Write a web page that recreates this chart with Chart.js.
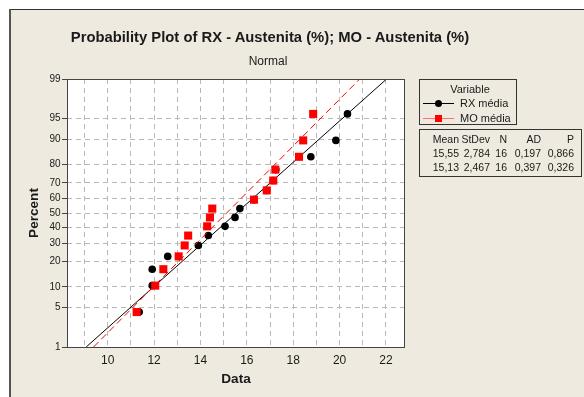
<!DOCTYPE html>
<html><head><meta charset="utf-8">
<script src="https://cdn.jsdelivr.net/npm/chart.js@4"></script>
<style>
html,body{margin:0;padding:0;background:#fff;}
#wrap{position:relative;width:584px;height:397px;overflow:hidden;font-family:'Liberation Sans',Arial,sans-serif;color:#1a1a1a;}
canvas{position:absolute;left:0;top:0;}
.abs{position:absolute;white-space:nowrap;}
#title{left:0;width:540px;text-align:center;top:29px;font-size:14.8px;line-height:17px;font-weight:bold;}
#subtitle{left:0;width:536px;text-align:center;top:54px;font-size:12px;line-height:14px;}
#legend{left:419px;top:79px;width:96px;height:44px;border:1px solid #333;}
#table{left:419px;top:129px;width:161px;height:46px;border:1px solid #333;}
.t{position:absolute;font-size:11px;line-height:13px;}
.tc{position:absolute;font-size:10.5px;line-height:12px;text-align:right;}
.lline{position:absolute;height:0;}
.dot{position:absolute;width:7px;height:7px;border-radius:50%;background:#000;}
.sq{position:absolute;width:7px;height:7px;background:#f00;}
</style></head>
<body><div id="wrap"><canvas id="c" width="584" height="397"></canvas>
<div class="abs" id="title">Probability Plot of RX - Austenita (%); MO - Austenita (%)</div>
<div class="abs" id="subtitle">Normal</div>
<div class="abs" id="legend"></div>
<div class="abs" id="table"></div>
</div>
<script>
// ---- data ----
const seriesNames = ['RX média', 'MO média'];
const plotPercent = [4.27, 10.37, 16.46, 22.56, 28.66, 34.76, 40.85, 46.95, 53.05, 59.15, 65.24, 71.34, 77.44, 83.54, 89.63, 95.73];
const rxValues = [11.36, 11.92, 11.92, 12.59, 13.91, 14.34, 15.06, 15.49, 15.70, 16.31, 16.85, 17.14, 17.25, 18.76, 19.84, 20.34];
const moValues = [11.25, 12.05, 12.40, 13.06, 13.32, 13.47, 14.29, 14.41, 14.51, 16.31, 16.86, 17.14, 17.23, 18.25, 18.43, 18.86];
const statMean = [15.55, 15.13];
const statStDev = [2.784, 2.467];
const statN = [16, 16];
const statAD = [0.197, 0.397];
const statP = [0.866, 0.326];
const yTickPercents = [1, 5, 10, 20, 30, 40, 50, 60, 70, 80, 90, 95, 99];
const yTickLabels = ['1', '5', '10', '20', '30', '40', '50', '60', '70', '80', '90', '95', '99'];
const xTickValues = [9, 10, 11, 12, 13, 14, 15, 16, 17, 18, 19, 20, 21, 22];
const xTickLabels = ['', '10', '', '12', '', '14', '', '16', '', '18', '', '20', '', '22'];
const xMin = 8.246, xMax = 22.82;
const pMin = 1, pMax = 99;

// inverse normal CDF (Acklam)
function probit(p) {
  const a = [-3.969683028665376e+01, 2.209460984245205e+02, -2.759285104469687e+02, 1.383577518672690e+02, -3.066479806614716e+01, 2.506628277459239e+00];
  const b = [-5.447609879822406e+01, 1.615858368580409e+02, -1.556989798598866e+02, 6.680131188771972e+01, -1.328068155288572e+01];
  const c = [-7.784894002430293e-03, -3.223964580411365e-01, -2.400758277161838e+00, -2.549732539343734e+00, 4.374664141464968e+00, 2.938163982698783e+00];
  const d = [7.784695709041462e-03, 3.224671290700398e-01, 2.445134137142996e+00, 3.754408661907416e+00];
  const pl = 0.02425, ph = 1 - pl;
  let q, r;
  if (p < pl) { q = Math.sqrt(-2 * Math.log(p)); return (((((c[0]*q+c[1])*q+c[2])*q+c[3])*q+c[4])*q+c[5]) / ((((d[0]*q+d[1])*q+d[2])*q+d[3])*q+1); }
  if (p <= ph) { q = p - 0.5; r = q*q; return (((((a[0]*r+a[1])*r+a[2])*r+a[3])*r+a[4])*r+a[5])*q / (((((b[0]*r+b[1])*r+b[2])*r+b[3])*r+b[4])*r+1); }
  q = Math.sqrt(-2 * Math.log(1 - p)); return -(((((c[0]*q+c[1])*q+c[2])*q+c[3])*q+c[4])*q+c[5]) / ((((d[0]*q+d[1])*q+d[2])*q+d[3])*q+1);
}
const zMin = probit(pMin / 100), zMax = probit(pMax / 100);
const toPts = vals => vals.map((v, i) => ({ x: v, y: probit(plotPercent[i] / 100) }));
const fitLine = k => [{ x: statMean[k] + zMin * statStDev[k], y: zMin }, { x: statMean[k] + zMax * statStDev[k], y: zMax }];

const FONT = "'Liberation Sans', Arial, sans-serif";
const bgPlugin = {
  id: 'bg',
  beforeDraw(chart) {
    const { ctx, chartArea: a } = chart;
    ctx.save();
    ctx.fillStyle = '#fff'; ctx.fillRect(0, 0, chart.width, chart.height);
    ctx.fillStyle = '#EEEAE0'; ctx.fillRect(9, 9, chart.width - 9, chart.height - 9);
    ctx.fillStyle = '#333'; ctx.fillRect(9, 9, chart.width - 9, 1);
    ctx.fillStyle = '#555'; ctx.fillRect(9, 9, 2, chart.height - 9);
    ctx.fillStyle = '#fff'; ctx.fillRect(a.left, a.top, a.right - a.left, a.bottom - a.top);
    ctx.restore();
  },
  afterDraw(chart) {
    const { ctx, chartArea: a } = chart;
    ctx.save();
    ctx.strokeStyle = '#444'; ctx.lineWidth = 1;
    ctx.strokeRect(a.left + 0.5, a.top + 0.5, a.right - a.left - 1, a.bottom - a.top);
    ctx.restore();
  }
};

new Chart(document.getElementById('c'), {
  type: 'scatter',
  data: {
    datasets: [
      { label: seriesNames[1], data: toPts(moValues), pointStyle: 'rect', pointRadius: 5.7, backgroundColor: '#ff0000', borderWidth: 0, order: 0 },
      { label: seriesNames[1] + ' fit', data: fitLine(1), showLine: true, pointRadius: 0, borderColor: '#ff0000', borderWidth: 1, borderDash: [7, 4], order: 1 },
      { label: seriesNames[0], data: toPts(rxValues), pointStyle: 'circle', pointRadius: 3.8, backgroundColor: '#000', borderWidth: 0, order: 2 },
      { label: seriesNames[0] + ' fit', data: fitLine(0), showLine: true, pointRadius: 0, borderColor: '#000', borderWidth: 1, order: 3 }
    ]
  },
  options: {
    responsive: false, animation: false, devicePixelRatio: 1,
    layout: { padding: { left: 0, top: 79, right: 179, bottom: 0 } },
    plugins: { legend: { display: false }, tooltip: { enabled: false } },
    scales: {
      x: {
        type: 'linear', min: xMin, max: xMax,
        afterBuildTicks: s => { s.ticks = xTickValues.map(v => ({ value: v })); },
        afterFit: s => { s.height = 50; },
        ticks: { autoSkip: false, maxRotation: 0, padding: 6.5, color: '#1a1a1a', font: { family: FONT, size: 12 }, callback: (v, i) => xTickLabels[i] },
        grid: { color: '#b8b8b8', lineWidth: 1, drawTicks: false },
        border: { display: false, dash: [5, 4] },
        title: { display: true, text: 'Data', color: '#1a1a1a', font: { family: FONT, size: 13.6, weight: 'bold' }, padding: { top: 0, bottom: 10 } }
      },
      y: {
        type: 'linear', min: zMin, max: zMax,
        afterBuildTicks: s => { s.ticks = yTickPercents.map(p => ({ value: probit(p / 100) })); },
        afterFit: s => { s.width = 67; },
        ticks: { autoSkip: false, padding: 1.5, color: '#1a1a1a', font: { family: FONT, size: 10 }, callback: (v, i) => yTickLabels[i] },
        grid: { color: '#b8b8b8', lineWidth: 1, drawTicks: true, tickLength: 5, tickColor: '#444', tickBorderDash: [] },
        border: { display: false, dash: [5, 4] },
        title: { display: true, text: 'Percent', color: '#1a1a1a', font: { family: FONT, size: 13.6, weight: 'bold' }, padding: { top: 26.5, bottom: 0 } }
      }
    }
  },
  plugins: [bgPlugin]
});

// ---- legend box ----
const lg = document.getElementById('legend');
function add(parent, cls, style, text) {
  const e = document.createElement('div'); e.className = cls; Object.assign(e.style, style);
  if (text !== undefined) e.textContent = text; parent.appendChild(e); return e;
}
add(lg, 't', { left: '0px', width: '100px', textAlign: 'center', top: '3px' }, 'Variable');
add(lg, 'lline', { left: '3px', width: '31px', top: '23px', borderTop: '1px solid #000' });
add(lg, 'dot', { left: '15px', top: '20px' });
add(lg, 't', { left: '40px', top: '17px' }, seriesNames[0]);
add(lg, 'lline', { left: '3px', width: '31px', top: '38px', borderTop: '1px solid #ff7070' });
add(lg, 'sq', { left: '15px', top: '35px' });
add(lg, 't', { left: '40px', top: '32px' }, seriesNames[1]);

// ---- stats table ----
const tb = document.getElementById('table');
const fmt = (v, d) => v.toFixed(d).replace('.', ',');
const colRight = [39, 70, 87, 121, 154];
const headers = ['Mean', 'StDev', 'N', 'AD', 'P'];
const rowsY = [3, 17, 31];
headers.forEach((h, j) => add(tb, 'tc', { right: (161 - colRight[j]) + 'px', top: rowsY[0] + 'px' }, h));
[0, 1].forEach(k => {
  const vals = [fmt(statMean[k], 2), fmt(statStDev[k], 3), String(statN[k]), fmt(statAD[k], 3), fmt(statP[k], 3)];
  vals.forEach((t, j) => add(tb, 'tc', { right: (161 - colRight[j]) + 'px', top: rowsY[k + 1] + 'px' }, t));
});
</script>
</body></html>
